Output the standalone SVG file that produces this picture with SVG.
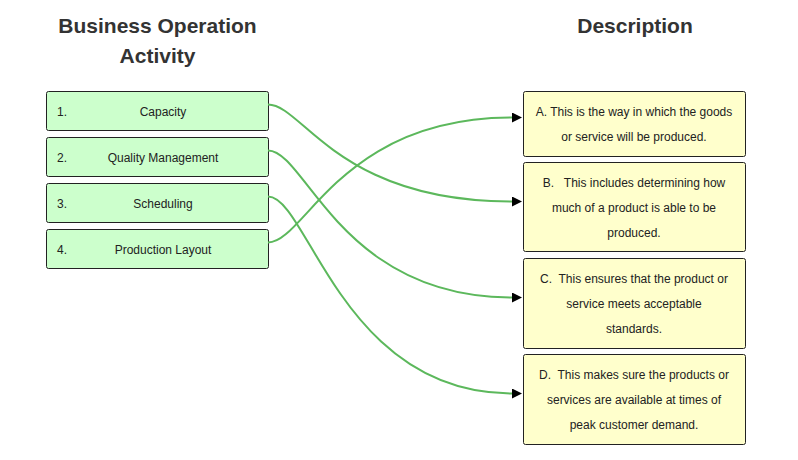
<svg xmlns="http://www.w3.org/2000/svg" width="798" height="460" viewBox="0 0 798 460">
<style>
.title{font-family:"Liberation Sans",Arial,sans-serif;font-size:21px;font-weight:bold;fill:#333;text-anchor:middle}
.t{font-family:"Liberation Sans",Arial,sans-serif;font-size:12px;fill:#222;white-space:pre}
.c{text-anchor:middle}
.lbox{fill:#ccffcc;stroke:#222;stroke-width:1}
.rbox{fill:#ffffcc;stroke:#222;stroke-width:1}
.conn{fill:none;stroke:#5cb85c;stroke-width:2}
</style>
<defs>
<marker id="arr" viewBox="0 0 10 10" refX="0" refY="5" markerWidth="10" markerHeight="10" markerUnits="userSpaceOnUse" orient="auto">
<path d="M0,0 L10,5 L0,10 Z" fill="#000"/>
</marker>
</defs>
<rect width="798" height="460" fill="#fff"/>
<text class="title" x="157.5" y="33">Business Operation</text>
<text class="title" x="157.5" y="63">Activity</text>
<text class="title" x="635" y="33">Description</text>

<g id="n1"><rect class="lbox" x="46.5" y="91.5" width="222" height="39" rx="2"/><text class="t" x="57" y="116">1.</text><text class="t c" x="163" y="116">Capacity</text></g>
<g id="n2"><rect class="lbox" x="46.5" y="137.5" width="222" height="39" rx="2"/><text class="t" x="57" y="162">2.</text><text class="t c" x="163" y="162">Quality Management</text></g>
<g id="n3"><rect class="lbox" x="46.5" y="183.5" width="222" height="39" rx="2"/><text class="t" x="57" y="208">3.</text><text class="t c" x="163" y="208">Scheduling</text></g>
<g id="n4"><rect class="lbox" x="46.5" y="229.5" width="222" height="39" rx="2"/><text class="t" x="57" y="254">4.</text><text class="t c" x="163" y="254">Production Layout</text></g>

<g id="nA"><rect class="rbox" x="523.5" y="91.5" width="222" height="65" rx="2"/><text class="t c" x="634" y="116">A. This is the way in which the goods</text><text class="t c" x="634" y="141">or service will be produced.</text></g>
<g id="nB"><rect class="rbox" x="523.5" y="162.5" width="222" height="89" rx="2"/><text class="t c" x="634" y="187">B.   This includes determining how</text><text class="t c" x="634" y="212">much of a product is able to be</text><text class="t c" x="634" y="237">produced.</text></g>
<g id="nC"><rect class="rbox" x="523.5" y="258.5" width="222" height="90" rx="2"/><text class="t c" x="634" y="283">C.  This ensures that the product or</text><text class="t c" x="634" y="308">service meets acceptable</text><text class="t c" x="634" y="333">standards.</text></g>
<g id="nD"><rect class="rbox" x="523.5" y="354.5" width="222" height="90" rx="2"/><text class="t c" x="634" y="379">D.  This makes sure the products or</text><text class="t c" x="634" y="404">services are available at times of</text><text class="t c" x="634" y="429">peak customer demand.</text></g>

<g id="connectors">
<path class="conn" marker-end="url(#arr)" d="M268,104.5 C303,104.5 337,201.5 512,201.5"/>
<path class="conn" marker-end="url(#arr)" d="M268,150.5 C306,150.5 340,297.5 512,297.5"/>
<path class="conn" marker-end="url(#arr)" d="M268,196.5 C308,196.5 342,393.5 512,393.5"/>
<path class="conn" marker-end="url(#arr)" d="M268,242.5 C305,242.5 340,117.5 512,117.5"/>
</g>
</svg>
